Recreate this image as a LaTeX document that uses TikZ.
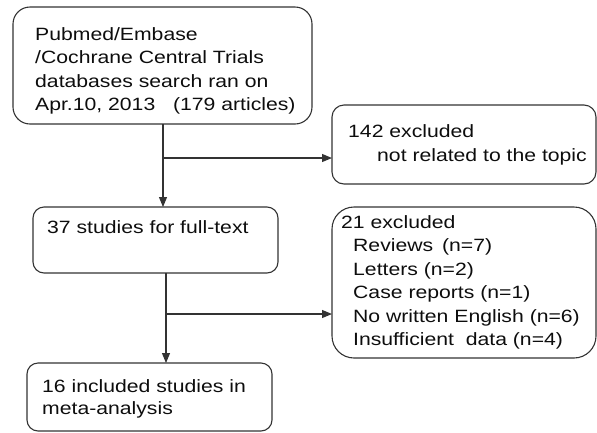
\documentclass[tikz,border=0pt]{standalone}
\usepackage{fontspec}
\setmainfont{Liberation Sans}[FakeStretch=1.19]
\usetikzlibrary{arrows.meta}
\begin{document}
\begin{tikzpicture}[x=1pt,y=-1pt,
  boxstyle/.style={draw=black!80,line width=1.1pt,inner sep=0pt},
  txt/.style={anchor=base west,inner sep=0pt,font=\fontsize{17.8}{21}\selectfont,text=black!95},
  conn/.style={draw=black!80,line width=1.1pt},
  arr/.style={conn,-{Triangle[length=10pt,width=8pt]}}]
\useasboundingbox (0,0) rectangle (597,432);
% boxes
\draw[boxstyle,rounded corners=17pt] (13,7) rectangle (312,124);
\node[coordinate] (b1s) at (163,124) {};
\draw[boxstyle,rounded corners=12pt] (332,105) rectangle (596,184);
\node[coordinate] (b2w) at (332,158) {};
\draw[boxstyle,rounded corners=11pt] (33,207) rectangle (278,273);
\node[coordinate] (b3n) at (163,207) {};
\node[coordinate] (b3s) at (166,273) {};
\draw[boxstyle,rounded corners=22pt] (332,207) rectangle (596,358);
\node[coordinate] (b4w) at (332,314) {};
\draw[boxstyle,rounded corners=11pt] (27,363) rectangle (272,431);
\node[coordinate] (b5n) at (166,363) {};
% texts
\node[txt] (t1a) at (35,40) {Pubmed/Embase};
\node[txt] (t1b) at (35,63.5) {/Cochrane Central Trials};
\node[txt] (t1c) at (35,87) {databases search ran on};
\node[txt] (t1d) at (35,110.5) {Apr.10, 2013\hspace{1em}(179 articles)};
\node[txt] (t2a) at (348,137) {142 excluded};
\node[txt] (t2b) at (377,161.5) {not related to the topic};
\node[txt] (t3a) at (47,233) {37 studies for full-text};
\node[txt] (t4a) at (341,228) {21 excluded};
\node[txt] (t4b) at (353,251.5) {Reviews \,(n=7)};
\node[txt] (t4c) at (353,275) {Letters (n=2)};
\node[txt] (t4d) at (353,298.5) {Case reports (n=1)};
\node[txt] (t4e) at (353,322) {No written English (n=6)};
\node[txt] (t4f) at (353,345.5) {Insufficient \ data (n=4)};
\node[txt] (t5a) at (42,392) {16 included studies in};
\node[txt] (t5b) at (42,414) {meta-analysis};
% connectors
\node[coordinate] (j1) at (163,158) {};
\node[coordinate] (j2) at (166,314) {};
\draw[arr] (b1s) -- (b3n);
\draw[arr] (j1) -- (b2w);
\draw[arr] (b3s) -- (b5n);
\draw[arr] (j2) -- (b4w);
\end{tikzpicture}
\end{document}
